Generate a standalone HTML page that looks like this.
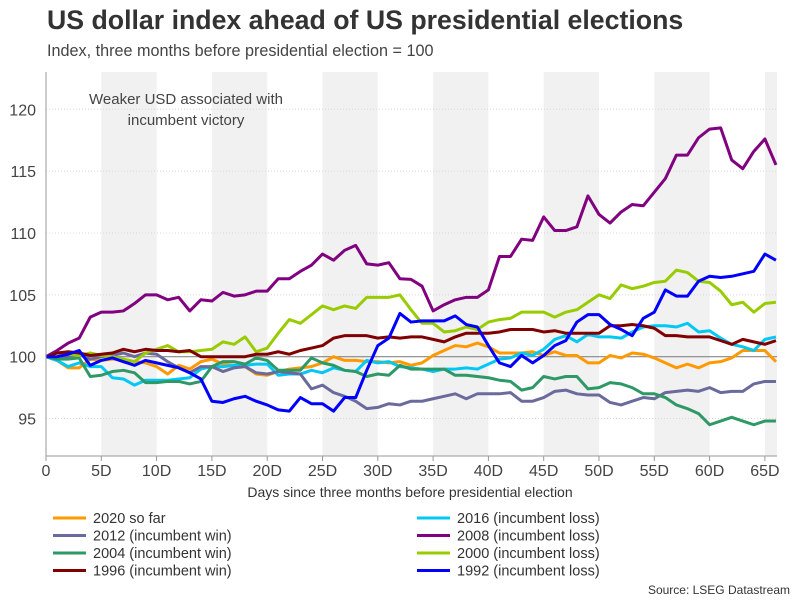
<!DOCTYPE html>
<html><head><meta charset="utf-8"><style>
body{margin:0;background:#fff;font-family:"Liberation Sans",sans-serif;}
</style></head><body>
<svg id="chart" width="801" height="601" xmlns="http://www.w3.org/2000/svg" font-family="Liberation Sans, sans-serif">
<text x="47" y="29" font-size="26.7" font-weight="bold" fill="#333">US dollar index ahead of US presidential elections</text>
<text x="47" y="56" font-size="16.2" fill="#444">Index, three months before presidential election = 100</text>
<g id="bands"></g><g id="grid"></g>
<text x="186" y="104" font-size="15" fill="#444" text-anchor="middle">Weaker USD associated with</text>
<text x="186" y="125" font-size="15" fill="#444" text-anchor="middle">incumbent victory</text>
<g id="series"></g><g id="axes"></g><g id="legend"></g>
<text x="410" y="497" font-size="14" fill="#333" text-anchor="middle">Days since three months before presidential election</text>
<text x="790" y="594" font-size="12" fill="#333" text-anchor="end">Source: LSEG Datastream</text>
</svg>
<script>
const yTicks=[95,100,105,110,115,120];
const xTicks=[0,5,10,15,20,25,30,35,40,45,50,55,60,65];
const xTickLabels=["0","5D","10D","15D","20D","25D","30D","35D","40D","45D","50D","55D","60D","65D"];
const seriesNames=["2020 so far","2016 (incumbent loss)","2012 (incumbent win)","2008 (incumbent loss)","2004 (incumbent win)","2000 (incumbent loss)","1996 (incumbent win)","1992 (incumbent loss)"];
const s2020=[100,99.7,99.1,99.1,99.8,99.7,99.8,99.8,99.6,99.5,99.2,98.6,99.3,99.0,99.6,99.8,99.4,99.3,99.2,98.6,98.5,98.8,99.0,99.1,99.2,99.5,100.0,99.7,99.7,99.6,99.6,99.5,99.6,99.3,99.5,100.1,100.5,100.9,100.8,101.1,100.8,100.3,100.3,100.3,100.4,100.1,100.4,100.1,100.1,99.5,99.5,100.1,99.9,100.3,100.2,99.9,99.5,99.1,99.4,99.1,99.5,99.6,99.9,100.5,100.5,100.5,99.6];
const s2016=[100,99.7,99.2,99.5,99.2,99.2,98.3,98.2,97.7,98.1,98.1,98.1,98.2,98.3,99.0,99.2,99.2,99.3,99.3,99.4,99.4,98.5,98.6,98.6,98.9,98.7,99.1,98.9,98.8,99.7,99.5,99.6,99.2,99.1,99.0,98.8,99.0,99.0,99.1,99.0,99.4,99.8,99.9,100.3,100.1,100.6,101.4,101.7,101.2,101.8,101.6,101.6,101.5,102.0,102.4,102.5,102.5,102.4,102.7,102.0,102.1,101.5,101.0,100.8,100.5,101.4,101.6];
const s2012=[100,99.9,100.0,100.2,99.8,100.0,100.1,100.3,100.0,100.3,100.2,99.6,99.1,98.7,99.2,99.2,98.8,99.1,99.2,98.7,98.6,98.8,98.7,98.6,97.4,97.7,97.1,96.8,96.4,95.8,95.9,96.2,96.1,96.4,96.4,96.6,96.8,97.0,96.6,97.0,97.0,97.0,97.1,96.4,96.4,96.7,97.2,97.3,97.0,96.9,96.9,96.3,96.1,96.4,96.7,96.6,97.1,97.2,97.3,97.2,97.5,97.1,97.2,97.2,97.8,98.0,98.0];
const s2008=[100,100.5,101.1,101.5,103.2,103.6,103.6,103.7,104.3,105.0,105.0,104.6,104.8,103.7,104.6,104.5,105.2,104.9,105.0,105.3,105.3,106.3,106.3,106.9,107.4,108.3,107.8,108.6,109.0,107.5,107.4,107.6,106.3,106.25,105.7,103.7,104.2,104.6,104.8,104.8,105.4,108.1,108.1,109.5,109.4,111.3,110.2,110.2,110.5,113.0,111.5,110.8,111.7,112.3,112.2,113.3,114.4,116.3,116.3,117.7,118.4,118.5,115.9,115.2,116.6,117.6,115.5];
const s2004=[100,99.8,99.8,99.9,98.4,98.5,98.8,98.9,98.7,97.9,97.9,98.0,98.0,97.8,98.0,99.2,99.6,99.6,99.4,99.9,99.7,98.9,98.9,98.9,99.9,99.5,99.3,98.9,98.8,98.4,98.6,98.5,99.3,99.0,99.0,99.0,99.0,98.5,98.5,98.4,98.3,98.1,98.0,97.3,97.5,98.4,98.2,98.4,98.4,97.4,97.5,97.9,97.8,97.5,97.0,97.0,96.7,96.1,95.8,95.4,94.5,94.8,95.1,94.8,94.5,94.8,94.8];
const s2000=[100,100.3,100.2,100.1,100.3,100.1,100.0,99.8,99.6,100.3,100.6,100.9,100.4,100.4,100.5,100.6,101.2,101.0,101.6,100.4,100.7,101.9,103.0,102.7,103.4,104.1,103.8,104.1,103.9,104.8,104.8,104.8,105.0,103.8,102.7,102.7,102.0,102.1,102.4,102.2,102.8,103.0,103.1,103.6,103.6,103.6,103.2,103.6,103.8,104.4,105.0,104.7,105.8,105.5,105.7,106.0,106.1,107.0,106.8,106.1,106.0,105.3,104.2,104.4,103.6,104.3,104.4];
const s1996=[100,100.3,100.4,100.3,100.1,100.2,100.3,100.6,100.4,100.6,100.5,100.5,100.4,100.5,100.0,100.0,100.0,100.0,100.0,100.2,100.2,100.4,100.2,100.5,100.7,100.9,101.5,101.7,101.7,101.7,101.5,101.6,101.5,101.6,101.6,101.4,101.2,101.6,101.9,101.9,101.9,102.0,102.2,102.2,102.2,102.0,102.1,101.9,101.9,101.9,101.9,102.5,102.5,102.6,102.5,102.3,101.7,101.7,101.6,101.6,101.6,101.3,101.0,101.4,101.2,101.0,101.3];
const s1992=[100,100.0,100.2,100.5,99.3,99.7,99.9,99.6,99.3,99.7,99.5,99.3,99.1,98.7,98.2,96.4,96.3,96.6,96.8,96.4,96.1,95.7,95.6,96.7,96.2,96.2,95.6,96.7,96.7,98.9,100.9,101.5,103.5,102.8,102.9,102.9,102.9,103.3,102.6,102.4,100.9,99.5,99.2,100.1,99.5,100.1,100.9,101.3,102.8,103.4,103.4,102.6,102.2,101.7,103.1,103.6,105.4,104.9,104.9,106.1,106.5,106.4,106.5,106.7,106.9,108.3,107.8];
const seriesData=[s2020,s2016,s2012,s2008,s2004,s2000,s1996,s1992];
const colors=["#ff9900","#00c8f5","#6a6a9c","#800080","#2e9966","#99cc00","#800000","#0000ff"];
const NS="http://www.w3.org/2000/svg";
const X0=46,X1=777,Y0=72,Y1=456;
const xs=d=>46+d*11.06;
const ys=v=>356.7-(v-100)*12.37;
function mk(tag,attrs,parent){const e=document.createElementNS(NS,tag);for(const k in attrs)e.setAttribute(k,attrs[k]);parent.appendChild(e);return e;}
const bands=document.getElementById('bands');
[5,15,25,35,45,55,65].forEach(d=>{
 const r=mk('rect',{x:xs(d),y:Y0,width:Math.min(xs(d+5),X1)-xs(d),height:Y1-Y0,fill:'#f1f1f1'},bands);
 
 
});
const grid=document.getElementById('grid');
yTicks.forEach(v=>{
 const l=mk('line',{x1:X0,x2:X1,y1:ys(v),y2:ys(v),stroke:'#d8d8d8','stroke-dasharray':'1,2'},grid);
 
 
 const t=mk('text',{x:36,y:ys(v)+6,'font-size':16,fill:'#444','text-anchor':'end'},grid);
 t.textContent=v;
 
 
});
const ser=document.getElementById('series');
const zl=mk('line',{x1:X0,x2:X1,y1:ys(100),y2:ys(100),stroke:'#888','stroke-width':1.2},ser);


seriesData.forEach((arr,i)=>{
 const p=mk('polyline',{points:arr.map((v,d)=>xs(d)+','+ys(v)).join(' '),fill:'none',stroke:colors[i],'stroke-width':3,'stroke-linejoin':'round'},ser);
 
 
});
const ax=document.getElementById('axes');
mk('line',{x1:X0,x2:X0,y1:Y0,y2:Y1,stroke:'#999'},ax);
mk('line',{x1:X0,x2:X1,y1:Y1,y2:Y1,stroke:'#999'},ax);
xTicks.forEach((d,i)=>{
 mk('line',{x1:xs(d),x2:xs(d),y1:Y1,y2:Y1+5,stroke:'#999'},ax);
 const t=mk('text',{x:xs(d),y:476,'font-size':16,fill:'#444','text-anchor':'middle'},ax);
 t.textContent=xTickLabels[i];
 
 
});
const lg=document.getElementById('legend');
const order=[0,1,2,3,4,5,6,7];
order.forEach((i,k)=>{
 const col=k%2,row=Math.floor(k/2);
 const lx=col?417:53, ly=518+row*17.5;
 const g=mk('g',{},lg);
 
 
 mk('line',{x1:lx,x2:lx+33,y1:ly,y2:ly,stroke:colors[i],'stroke-width':3},g);
 const t=mk('text',{x:lx+40,y:ly+5,'font-size':14.5,fill:'#333'},g);
 t.textContent=seriesNames[i];
});
</script>
</body></html>
